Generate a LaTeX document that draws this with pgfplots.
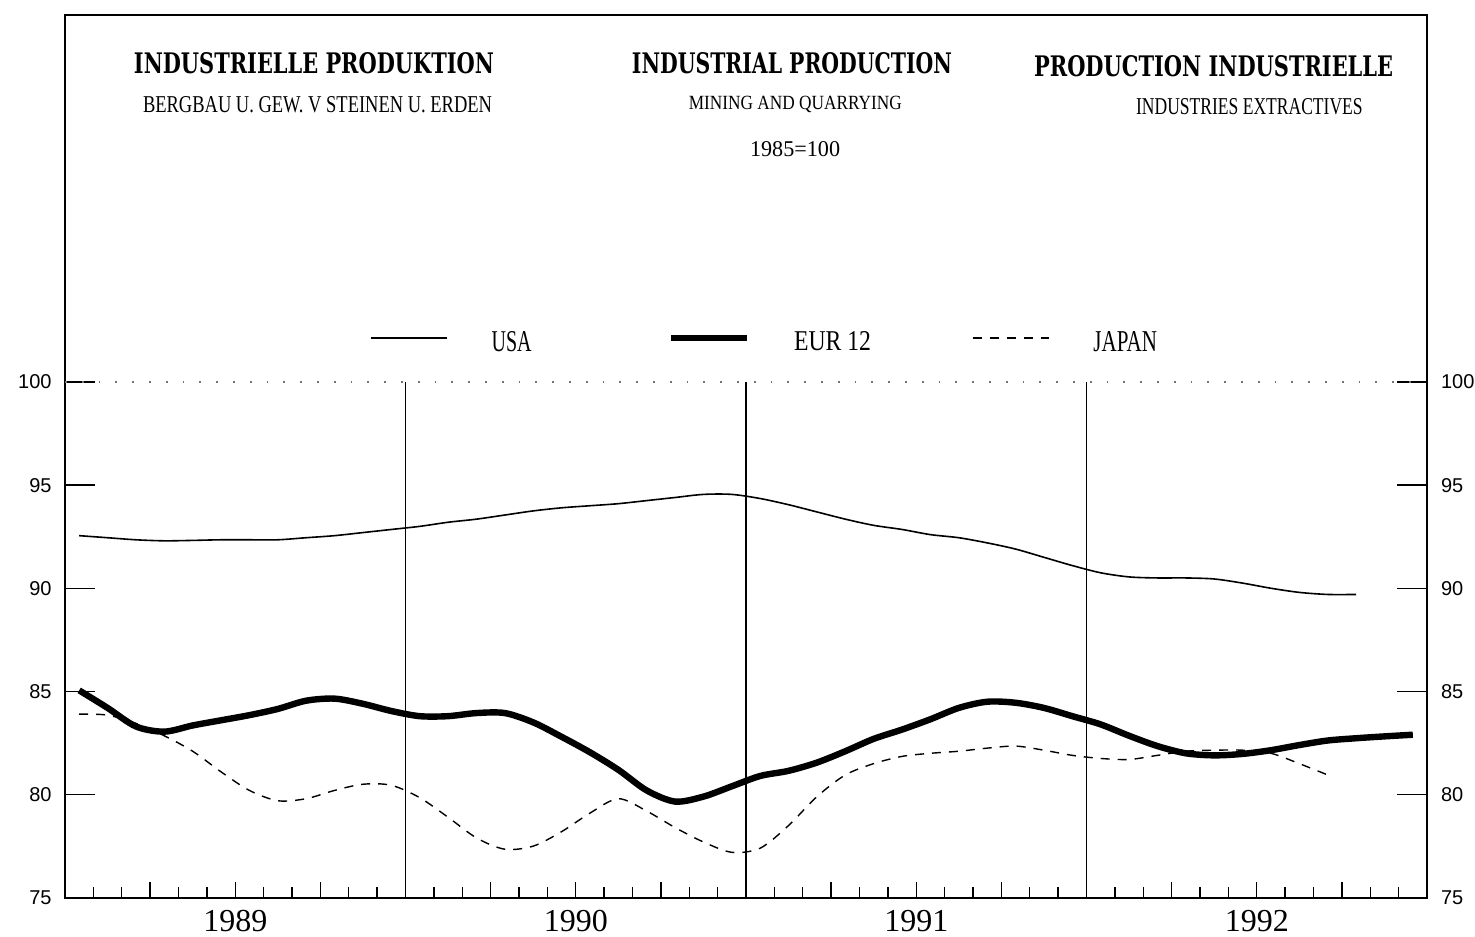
\documentclass[border=0pt]{standalone}
\usepackage{fontspec}
\setmainfont{Liberation Serif}
\setsansfont{Liberation Sans}
\newfontfamily\titlefont{DejaVu Serif}
\usepackage{graphicx}
\usepackage{pgfplots}
\usepackage{pgfplotstable}
\pgfplotsset{compat=1.18}

\pgfplotstableread{
m v
0.5 92.55
1.5 92.45
2.5 92.35
3.5 92.30
4.5 92.32
5.5 92.35
6.5 92.35
7.5 92.35
8.5 92.45
9.5 92.55
10.5 92.70
11.5 92.85
12.5 93.00
13.5 93.20
14.5 93.35
15.5 93.55
16.5 93.75
17.5 93.90
18.5 94.00
19.5 94.10
20.5 94.25
21.5 94.40
22.5 94.55
23.5 94.55
24.5 94.35
25.5 94.05
26.5 93.70
27.5 93.35
28.5 93.05
29.5 92.85
30.5 92.60
31.5 92.45
32.5 92.20
33.5 91.90
34.5 91.50
35.5 91.10
36.5 90.75
37.5 90.55
38.5 90.50
39.5 90.50
40.5 90.45
41.5 90.25
42.5 90.00
43.5 89.80
44.5 89.70
45.5 89.70
}\usadata

\pgfplotstableread{
m v
0.5 85.05
1.5 84.20
2.5 83.30
3.5 83.05
4.5 83.35
5.5 83.60
6.5 83.85
7.5 84.15
8.5 84.55
9.5 84.65
10.5 84.40
11.5 84.05
12.5 83.80
13.5 83.80
14.5 83.95
15.5 83.95
16.5 83.50
17.5 82.80
18.5 82.05
19.5 81.20
20.5 80.20
21.5 79.66
22.5 79.90
23.5 80.40
24.5 80.90
25.5 81.15
26.5 81.55
27.5 82.10
28.5 82.70
29.5 83.15
30.5 83.65
31.5 84.20
32.5 84.50
33.5 84.45
34.5 84.20
35.5 83.80
36.5 83.40
37.5 82.85
38.5 82.35
39.5 82.00
40.5 81.90
41.5 81.97
42.5 82.15
43.5 82.40
44.5 82.62
45.5 82.73
46.5 82.82
47.5 82.90
}\eurdata

\pgfplotstableread{
m v
0.5 83.90
1.5 83.85
2.5 83.45
3.5 82.85
4.5 82.10
5.5 81.10
6.5 80.20
7.5 79.70
8.5 79.80
9.5 80.20
10.5 80.50
11.5 80.45
12.5 79.85
13.5 78.90
14.5 77.90
15.5 77.35
16.5 77.50
17.5 78.20
18.5 79.10
19.5 79.80
20.5 79.20
21.5 78.40
22.5 77.70
23.5 77.20
24.5 77.40
25.5 78.50
26.5 79.90
27.5 80.95
28.5 81.50
29.5 81.85
30.5 82.00
31.5 82.10
32.5 82.25
33.5 82.35
34.5 82.15
35.5 81.90
36.5 81.75
37.5 81.70
38.5 81.90
39.5 82.10
40.5 82.15
41.5 82.15
42.5 82.00
43.5 81.50
44.5 80.95
}\japdata

\begin{document}
\begin{tikzpicture}
\path[use as bounding box] (0,0) rectangle (737.5pt,468pt);
\begin{axis}[
  at={(32.5pt,19.15pt)}, anchor=south west,
  scale only axis, width=681pt, height=441.35pt,
  xmin=0, xmax=48, ymin=75, ymax=117.79,
  axis line style={line width=0.8pt},
  tick align=inside,
  ytick={75,80,85,90,95,100},
  ytick pos=both, yticklabel pos=left,
  xtick=\empty,
  major tick length=15pt,
  tick style={line width=0.7pt, black},
  /pgf/number format/assume math mode=true,
  yticklabel style={font=\sffamily\fontsize{10}{12}\selectfont, inner sep=0pt, xshift=-6.5pt},
  legend image code/.code={\draw[#1] (0pt,2.5pt) -- (38pt,2.5pt);},
  legend columns=3,
  legend style={at={(axis cs:10.75,101.89)}, anchor=west, draw=none, fill=none,
    inner sep=0pt, outer sep=0pt, nodes={inner sep=0pt},
    /tikz/every odd column/.style={column sep=22pt},
    /tikz/column 2/.style={column sep=68pt},
    /tikz/column 4/.style={column sep=50.5pt},
    /tikz/column 5/.style={column sep=24.5pt}},
]
\draw[black!55, line width=0.9pt, dash pattern=on 0.9pt off 7.5pt] (axis cs:0,100) -- (axis cs:48,100);
\draw[line width=0.7pt] (axis cs:12,75) -- (axis cs:12,100);
\draw[line width=0.7pt] (axis cs:24,75) -- (axis cs:24,100);
\draw[line width=0.7pt] (axis cs:36,75) -- (axis cs:36,100);

\addplot[black, line width=0.8pt, smooth] table[x=m,y=v] {\usadata};
\addlegendentry{\resizebox{20pt}{10pt}{USA}}
\addplot[black, line width=3.2pt, smooth] table[x=m,y=v] {\eurdata};
\addlegendentry{\resizebox{38.5pt}{9.5pt}{EUR 12}}
\addplot[black, line width=0.7pt, dash pattern=on 4.5pt off 4pt, smooth] table[x=m,y=v] {\japdata};
\addlegendentry{\resizebox{31.75pt}{10pt}{JAPAN}}

\node[inner sep=0pt] at (axis cs:8.775,115.44) {\resizebox{180pt}{10.5pt}{\titlefont\bfseries INDUSTRIELLE PRODUKTION}};
\node[inner sep=0pt] at (axis cs:25.62,115.44) {\resizebox{160pt}{10.5pt}{\titlefont\bfseries INDUSTRIAL PRODUCTION}};
\node[inner sep=0pt] at (axis cs:40.48,115.32) {\resizebox{179.5pt}{10.5pt}{\titlefont\bfseries PRODUCTION INDUSTRIELLE}};
\node[inner sep=0pt] at (axis cs:8.90,113.44) {\resizebox{174.5pt}{8pt}{BERGBAU U. GEW. V STEINEN U. ERDEN}};
\node[inner sep=0pt] at (axis cs:25.74,113.43) {\resizebox*{106.5pt}{8.3pt}{MINING AND QUARRYING}};
\node[inner sep=0pt] at (axis cs:41.74,113.33) {\resizebox{113.3pt}{8pt}{INDUSTRIES EXTRACTIVES}};
\node[inner sep=0pt] at (axis cs:25.73,111.30) {\resizebox{45pt}{7.5pt}{1985=100}};
\end{axis}

\begin{axis}[
  at={(32.5pt,19.15pt)}, anchor=south west,
  scale only axis, width=681pt, height=441.35pt,
  xmin=0, xmax=48, ymin=75, ymax=117.79,
  axis line style={draw=none},
  tick align=inside,
  ytick={75,80,85,90,95,100},
  ytick pos=right, yticklabel pos=right,
  xtick={3,6,9,15,18,21,27,30,33,39,42,45},
  xticklabels={,1989,,,1990,,,1991,,,1992,},
  minor xtick={1,2,4,5,7,8,10,11,13,14,16,17,19,20,22,23,25,26,28,29,31,32,34,35,37,38,40,41,43,44,46,47},
  xtick pos=bottom,
  major tick length=8pt, minor tick length=5.5pt,
  tick style={line width=0.7pt, black},
  /pgf/number format/assume math mode=true,
  yticklabel style={font=\sffamily\fontsize{10}{12}\selectfont, inner sep=0pt, xshift=6.8pt},
  xticklabel style={font=\fontsize{16}{18}\selectfont, inner sep=0pt, yshift=-6pt},
]
\end{axis}
\end{tikzpicture}
\end{document}
